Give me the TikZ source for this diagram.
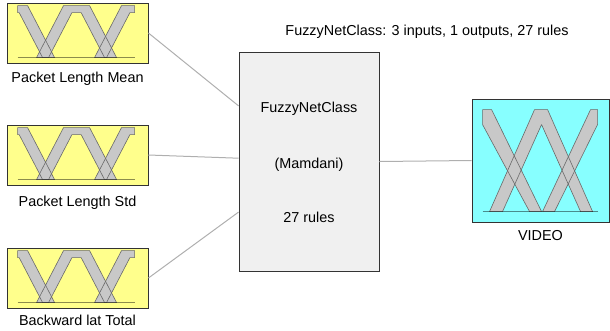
\documentclass[tikz,border=0pt]{standalone}
\usepackage{fontspec}
\setmainfont{Liberation Sans}
\usetikzlibrary{calc}

\definecolor{inyellow}{RGB}{255,255,140}
\definecolor{outcyan}{RGB}{135,255,255}
\definecolor{fisgray}{RGB}{240,240,240}
\definecolor{bandfill}{RGB}{200,200,200}
\definecolor{bandline}{RGB}{105,105,105}
\definecolor{wire}{RGB}{175,175,175}

\tikzset{
  every node/.style={font=\fontsize{14.4}{17}\selectfont, inner sep=0pt},
  boxframe/.style={draw=black!80, line width=0.9pt},
  inbox/.style={boxframe, fill=inyellow, minimum width=141pt, minimum height=60pt},
  outbox/.style={boxframe, fill=outcyan, minimum width=137pt, minimum height=123pt},
  fisbox/.style={boxframe, fill=fisgray, minimum width=140pt, minimum height=219pt},
  wirestyle/.style={draw=wire, line width=1pt},
  bandbody/.style={fill=bandfill},
  bandedge/.style={draw=bandline, line width=0.6pt, line join=round},
  axisline/.style={draw=black, opacity=0.45, line width=1pt},
  % three membership functions of an input variable
  pics/inmfs/.style={code={
    \fill[bandbody] (11,3)--(21,3)--(48,55)--(36,55)--(12.6,10)--(11,10)--cycle;
    \fill[bandbody] (30,55)--(57,3)--(83,3)--(110,55)--(98,55)--(74.6,10)--(65.4,10)--(42,55)--cycle;
    \fill[bandbody] (88,55)--(115,3)--(128,3)--(128,10)--(123.4,10)--(100,55)--cycle;
    \draw[bandedge] (11,3)--(21,3)--(48,55)--(36,55)--(12.6,10)--(11,10)--cycle;
    \draw[bandedge] (30,55)--(57,3)--(83,3)--(110,55)--(98,55)--(74.6,10)--(65.4,10)--(42,55)--cycle;
    \draw[bandedge] (88,55)--(115,3)--(128,3)--(128,10)--(123.4,10)--(100,55)--cycle;
    \draw[axisline] (11,55)--(128,55);
  }},
  % three membership functions of the output variable
  pics/outmfs/.style={code={
    \fill[bandbody] (11,11)--(20,11)--(70,113)--(58,113)--(11,26)--cycle;
    \fill[bandbody] (18,113)--(63,11)--(76,11)--(121,113)--(109,113)--(70,26)--(31,113)--cycle;
    \fill[bandbody] (126,11)--(119,11)--(71,113)--(83,113)--(126,26)--cycle;
    \draw[bandedge] (11,11)--(20,11)--(70,113)--(58,113)--(11,26)--cycle;
    \draw[bandedge] (18,113)--(63,11)--(76,11)--(121,113)--(109,113)--(70,26)--(31,113)--cycle;
    \draw[bandedge] (126,11)--(119,11)--(71,113)--(83,113)--(126,26)--cycle;
    \draw[axisline] (11,113)--(126,113);
  }}
}

\begin{document}
\begin{tikzpicture}[x=1pt, y=-1pt]
  \useasboundingbox (0,0) rectangle (610,330);

  % system block
  \node[fisbox] (fis) at (309,161.5) {};
  \node[anchor=base] (fisname) at (309,112) {FuzzyNetClass};
  \node[anchor=base] (fistype) at (309,168) {(Mamdani)};
  \node[anchor=base] (fisrules) at (309,222) {27 rules};

  \node[anchor=base] (title) at (427,35) {FuzzyNetClass: 3 inputs, 1 outputs, 27 rules};

  % inputs
  \node[inbox] (in1) at (77.5,33) {};
  \node[inbox] (in2) at (77.5,155) {};
  \node[inbox] (in3) at (77.5,278) {};
  \pic[shift={(in1.north west)}] {inmfs};
  \pic[shift={(in2.north west)}] {inmfs};
  \pic[shift={(in3.north west)}] {inmfs};
  \node[anchor=base] (lab1) at (77.5,82) {Packet Length Mean};
  \node[anchor=base] (lab2) at (77.5,206) {Packet Length Std};
  \node[anchor=base] (lab3) at (77.5,325) {Backward lat Total};

  % output
  \node[outbox] (out) at (540.5,160.5) {};
  \pic[shift={(out.north west)}] {outmfs};
  \node[anchor=base] (labout) at (540.5,240) {VIDEO};

  % connections
  \coordinate (p1) at ($(fis.north west)!0.247!(fis.south west)$);
  \coordinate (p2) at ($(fis.north west)!0.485!(fis.south west)$);
  \coordinate (p3) at ($(fis.north west)!0.730!(fis.south west)$);
  \draw[wirestyle] (in1.east) -- (p1);
  \draw[wirestyle] (in2.east) -- (p2);
  \draw[wirestyle] (in3.east) -- (p3);
  \draw[wirestyle] (fis.east) -- (out.west);
\end{tikzpicture}
\end{document}
